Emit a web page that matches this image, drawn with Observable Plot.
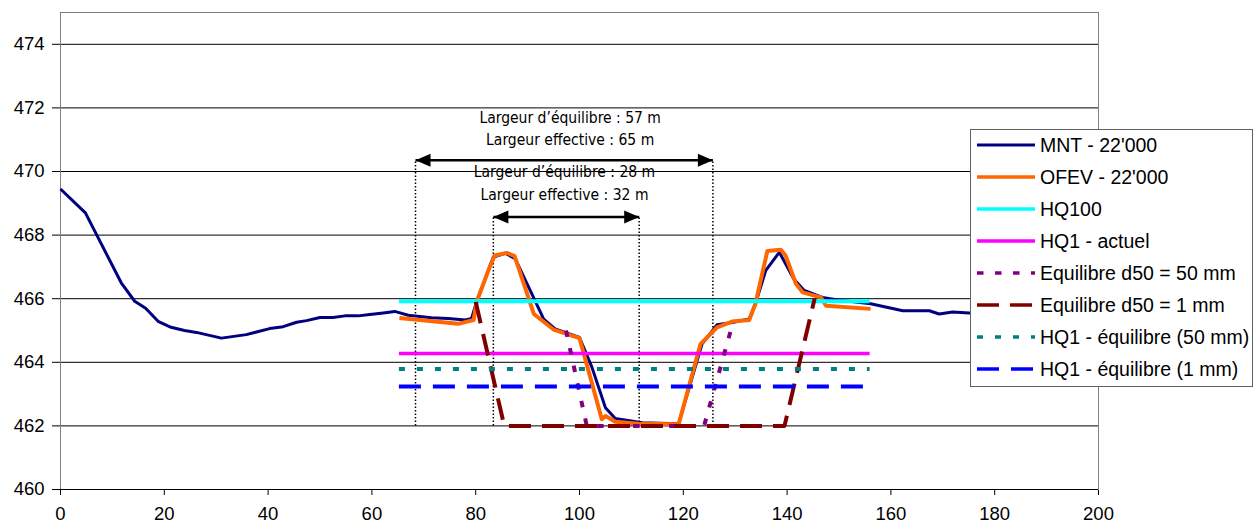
<!DOCTYPE html>
<html>
<head>
<meta charset="utf-8">
<script src="https://cdn.jsdelivr.net/npm/d3@7"></script>
<script src="https://cdn.jsdelivr.net/npm/@observablehq/plot@0.6"></script>
<style>
  html, body { margin: 0; padding: 0; background: #fff; overflow: hidden; }
  #wrap { position: relative; width: 1255px; height: 524px; }
  #legend { position: absolute; left: 970px; top: 129px; width: 283px; height: 258px;
            border: 1px solid #606060; background: #fff; box-sizing: border-box;
            font-family: "Liberation Sans", Arial, sans-serif; font-size: 19.5px; color: #000; }
  .row { position: absolute; left: 6px; height: 24px; display: flex; align-items: center; white-space: nowrap; }
  .row svg { margin-right: 5px; flex: none; }
</style>
</head>
<body>
<div id="wrap"><div id="legend"></div></div>
<script>
// ---- Data ----
const mntX = [0, 4.8, 11.7, 14.3, 16.4, 18.8, 21.3, 23.9, 26.2, 31.0, 35.8, 40.3, 42.9, 45.5, 47.4, 50.0, 52.5, 54.8, 57.4, 59.6, 62.2, 64.4, 67.0, 71.5, 74.7, 78.0, 79.2, 80.2, 83.4, 85.7, 87.6, 90.5, 93.1, 95.3, 100.0, 102.4, 105.0, 106.9, 112.1, 119.1, 123.6, 126.5, 129.4, 132.7, 133.9, 135.9, 138.5, 141.3, 143.3, 146.8, 150.7, 156.1, 162.3, 167.4, 169.3, 171.9, 175.1, 180];
const mntY = [469.45, 468.7, 466.5, 465.92, 465.7, 465.29, 465.1, 465.0, 464.94, 464.76, 464.87, 465.06, 465.12, 465.26, 465.31, 465.41, 465.41, 465.46, 465.46, 465.5, 465.55, 465.6, 465.48, 465.40, 465.38, 465.33, 465.38, 465.91, 467.31, 467.43, 467.26, 466.26, 465.36, 465.05, 464.78, 463.84, 462.57, 462.23, 462.10, 462.07, 464.57, 465.18, 465.25, 465.36, 465.84, 466.89, 467.46, 466.62, 466.26, 466.04, 465.94, 465.84, 465.62, 465.62, 465.52, 465.58, 465.55, 465.5];

const ofevX = [65.3, 76.6, 79.6, 80.2, 82.8, 83.7, 86.0, 87.5, 91.2, 95.0, 100.0, 104.3, 105.0, 106.9, 111.4, 119.1, 123.3, 126.5, 129.4, 132.7, 133.9, 136.2, 138.8, 139.7, 141.7, 143.0, 146.5, 147.5, 156.1];
const ofevY = [465.39, 465.21, 465.33, 465.91, 467.04, 467.36, 467.44, 467.34, 465.52, 465.03, 464.76, 462.21, 462.31, 462.13, 462.07, 462.05, 464.57, 465.10, 465.28, 465.33, 465.84, 467.50, 467.54, 467.36, 466.47, 466.20, 466.04, 465.78, 465.68];

const eq50X = [97.4, 101.4, 124.0, 129.4];
const eq50Y = [465.0, 462.0, 462.0, 465.15];
const eq1X = [80.0, 85.5, 139.5, 145.3];
const eq1Y = [465.9, 462.0, 462.0, 466.0];

const levelStart = 65.3;
const levelEnd = 156.0;
const hq100 = 465.92;
const hq1Actuel = 464.28;
const hq1Eq50 = 463.79;
const hq1Eq1 = 463.24;

const seriesNames = ["MNT - 22'000", "OFEV - 22'000", "HQ100", "HQ1 - actuel", "Equilibre d50 = 50 mm", "Equilibre d50 = 1 mm", "HQ1 - équilibre (50 mm)", "HQ1 - équilibre (1 mm)"];
const seriesColors = ["#000080", "#FF6600", "#00FFFF", "#FF00FF", "#800080", "#800000", "#008080", "#0000FF"];

const arrowX1 = [68.4, 83.4];
const arrowX2 = [125.7, 111.5];
const arrowY = [470.35, 468.57];
const baseY = 462;

const noteText = ["Largeur d’équilibre : 57 m", "Largeur effective : 65 m", "Largeur d’équilibre : 28 m", "Largeur effective : 32 m"];
const noteX = [98.2, 98.2, 97.1, 97.1];
const noteY = [471.69, 470.99, 469.97, 469.25];

const xTicks = [0, 20, 40, 60, 80, 100, 120, 140, 160, 180, 200];
const yTicks = [460, 462, 464, 466, 468, 470, 472, 474];

// ---- Build tables ----
const pts = (xs, ys) => xs.map((x, i) => ({x, y: ys[i]}));
const mnt = pts(mntX, mntY);
const ofev = pts(ofevX, ofevY);
const eq50 = pts(eq50X, eq50Y);
const eq1 = pts(eq1X, eq1Y);
const levels = [hq100, hq1Actuel, hq1Eq50, hq1Eq1];
const arrows = arrowX1.map((x1, i) => ({x1, x2: arrowX2[i], y: arrowY[i]}));
const heads = arrows.flatMap(a => [{x: a.x1, y: a.y, r: 180}, {x: a.x2, y: a.y, r: 0}]);
const verticals = arrows.flatMap(a => [{x: a.x1, y: a.y}, {x: a.x2, y: a.y}]);
const notes = noteText.map((t, i) => ({t, x: noteX[i], y: noteY[i]}));

const styles = [
  {w: 3, dash: null},
  {w: 4, dash: null},
  {w: 4, dash: null},
  {w: 3.5, dash: null},
  {w: 4, dash: "6.5,11.5"},
  {w: 4, dash: "22,11"},
  {w: 4, dash: "6,12"},
  {w: 4, dash: "22,12"}
];

const arrowHead = {
  draw(ctx) {
    ctx.moveTo(0, 0);
    ctx.lineTo(-15, -6.5);
    ctx.lineTo(-15, 6.5);
    ctx.closePath();
  }
};

const lvl = (v, i) => Plot.ruleY([v], {x1: levelStart, x2: levelEnd, stroke: seriesColors[i], strokeWidth: styles[i].w, strokeDasharray: styles[i].dash, strokeLinecap: "butt"});
const line = (data, i) => Plot.line(data, {x: "x", y: "y", stroke: seriesColors[i], strokeWidth: styles[i].w, strokeDasharray: styles[i].dash, strokeLinecap: "butt", strokeLinejoin: "round"});

const chart = Plot.plot({
  width: 1255,
  height: 524,
  marginLeft: 60,
  marginRight: 157,
  marginTop: 12,
  marginBottom: 35,
  style: {fontFamily: "'Liberation Sans', Arial, sans-serif", fontSize: "18.5px", color: "#000", background: "transparent"},
  x: {domain: [0, 200], ticks: xTicks, tickSize: 6, tickPadding: 11, label: null},
  y: {domain: [460, 475], ticks: yTicks, tickSize: 8, tickPadding: 8, label: null},
  marks: [
    Plot.ruleY(yTicks.filter(v => v > 460), {stroke: "#000", strokeWidth: 1}),
    Plot.frame({stroke: "#808080", strokeWidth: 1}),
    Plot.ruleY([460], {stroke: "#000", strokeWidth: 1}),
    Plot.ruleX(verticals, {x: "x", y1: baseY, y2: "y", stroke: "#000", strokeWidth: 1.5, strokeDasharray: "1.5,2"}),
    line(mnt, 0),
    line(ofev, 1),
    lvl(levels[0], 2),
    lvl(levels[1], 3),
    line(eq50, 4),
    line(eq1, 5),
    lvl(levels[2], 6),
    lvl(levels[3], 7),
    Plot.link(arrows, {x1: "x1", x2: "x2", y1: "y", y2: "y", stroke: "#000", strokeWidth: 2.5}),
    Plot.dot(heads, {x: "x", y: "y", rotate: "r", symbol: arrowHead, fill: "#000", stroke: "none"}),
    Plot.text(notes, {x: "x", y: "y", text: "t", fontFamily: "'Liberation Sans Narrow', 'DejaVu Sans Condensed', 'Arial Narrow', sans-serif", fontSize: 15.5, fill: "#000", textAnchor: "middle"})
  ]
});
document.getElementById("wrap").prepend(chart);

// ---- Legend ----
const legend = document.getElementById("legend");
seriesNames.forEach((name, i) => {
  const row = document.createElement("div");
  row.className = "row";
  row.style.top = (3 + i * 32) + "px";
  const dash = styles[i].dash ? `stroke-dasharray="${styles[i].dash}"` : "";
  row.innerHTML = `<svg width="58" height="10"><line x1="0" x2="58" y1="5" y2="5" stroke="${seriesColors[i]}" stroke-width="${Math.min(styles[i].w, 3.5)}" ${dash}/></svg><span>${name}</span>`;
  legend.appendChild(row);
});
</script>
</body>
</html>
